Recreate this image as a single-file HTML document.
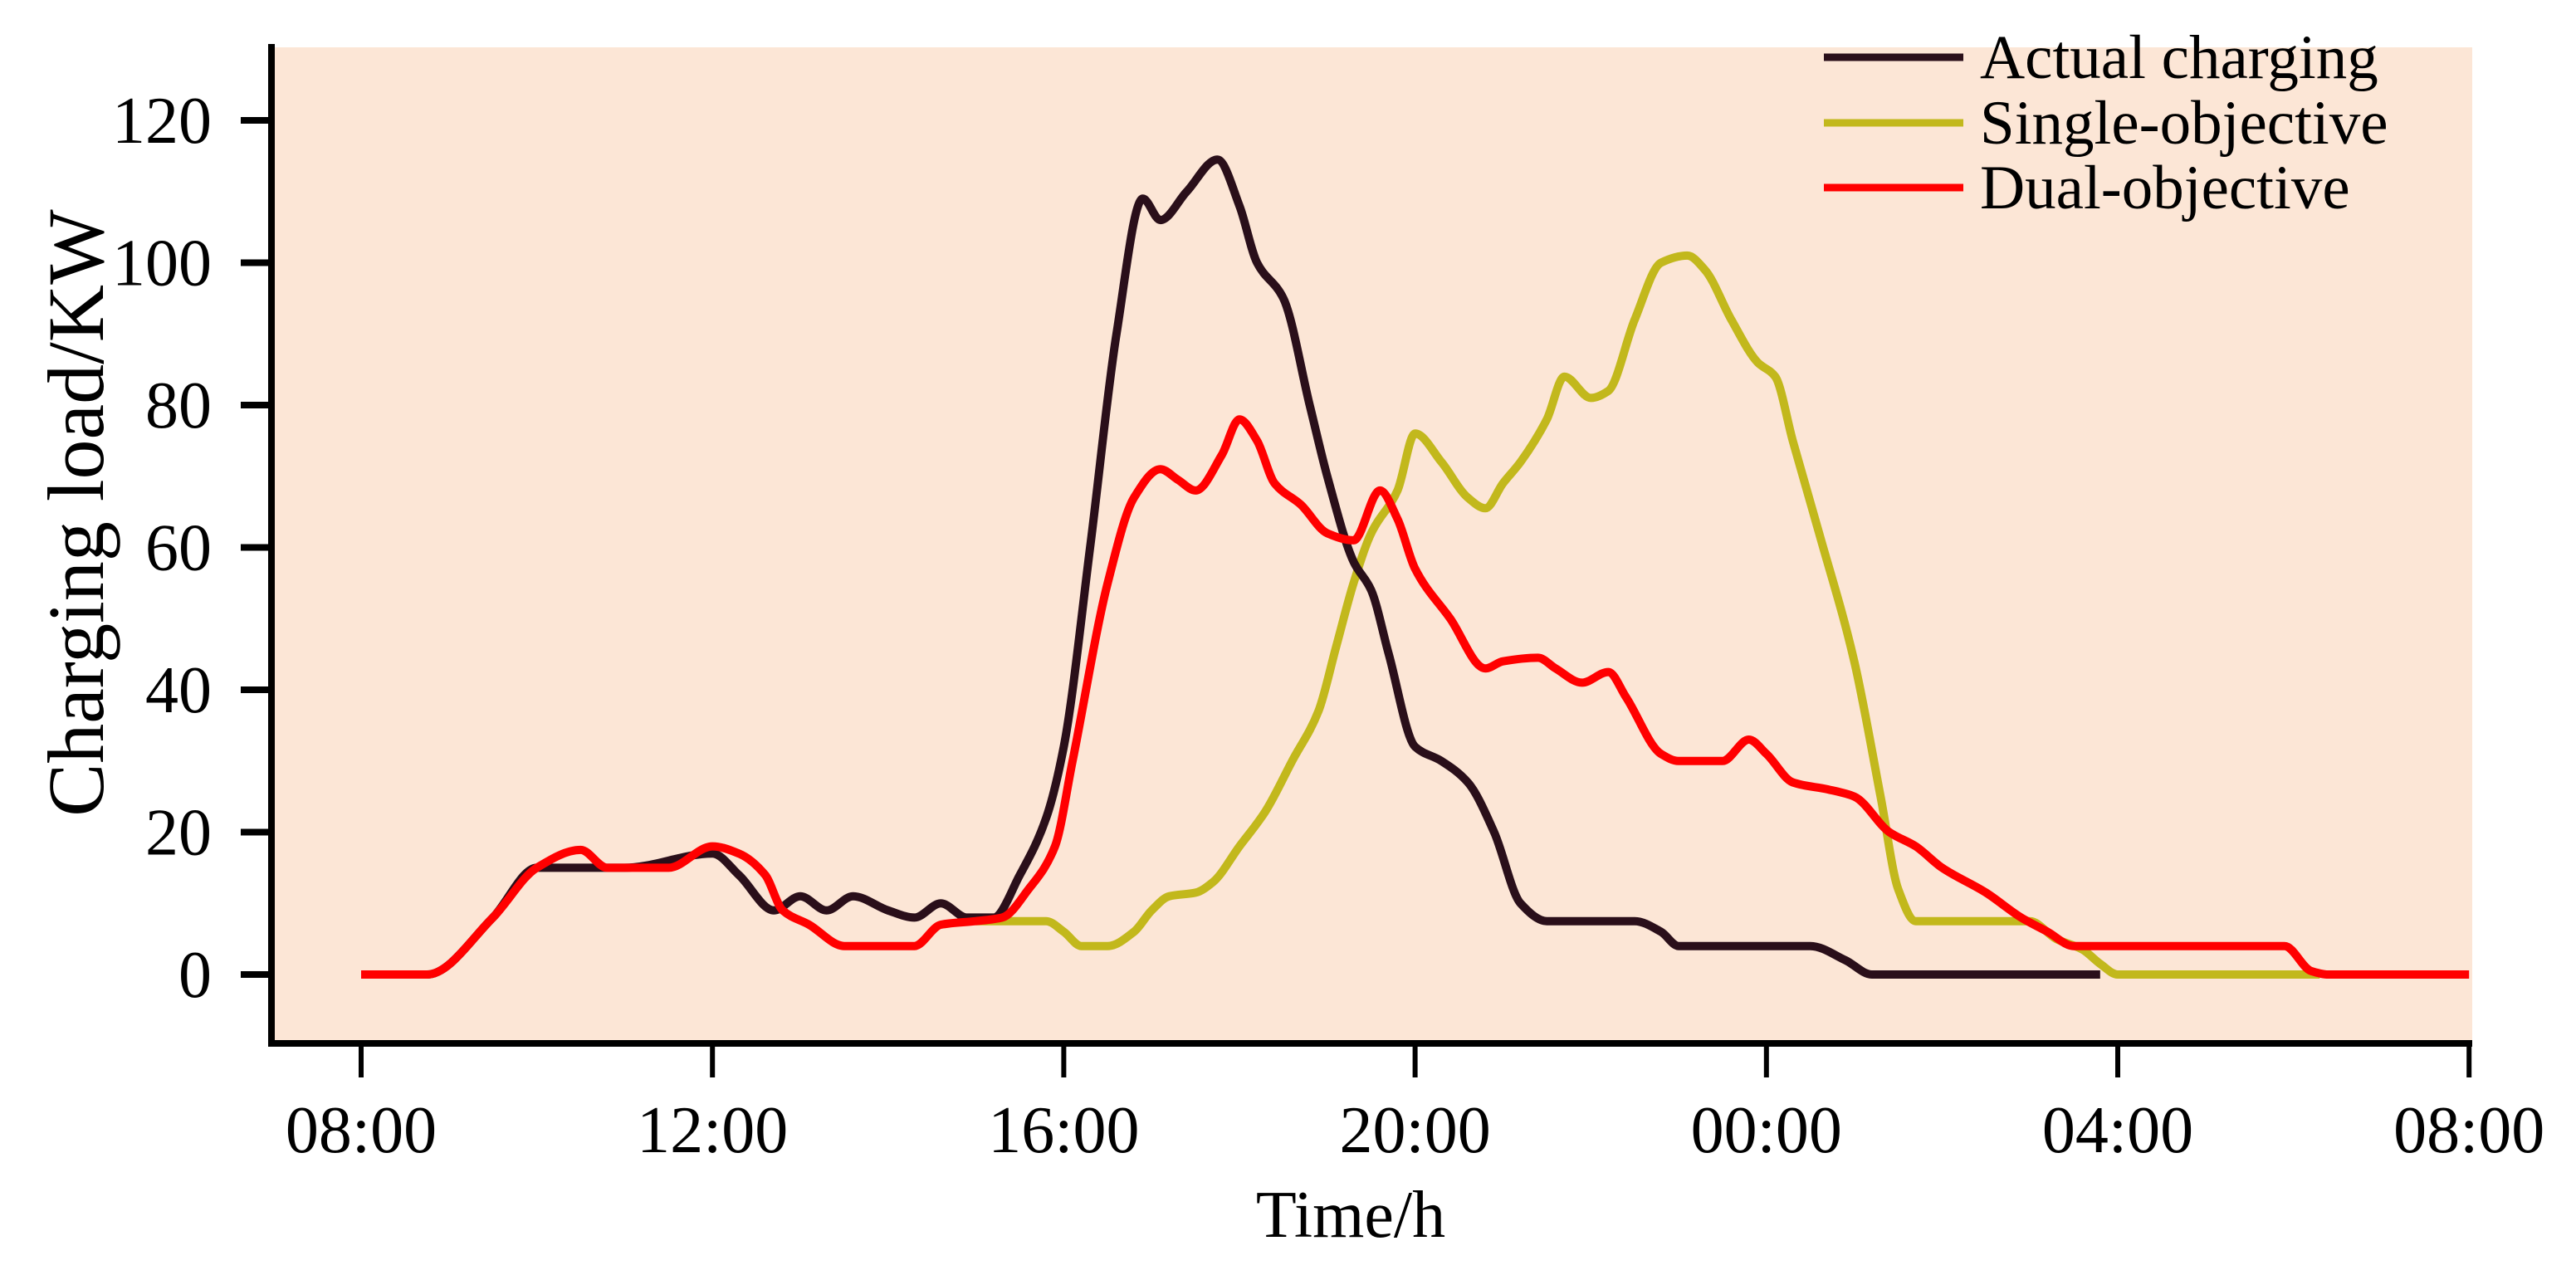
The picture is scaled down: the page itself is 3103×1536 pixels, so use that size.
<!DOCTYPE html>
<html><head><meta charset="utf-8"><style>
html,body{margin:0;padding:0;background:#fff;}
svg{display:block;font-family:"Liberation Serif","Times New Roman",serif;}
</style></head><body>
<svg id="chart" width="3103" height="1536" viewBox="0 0 3103 1536" xmlns="http://www.w3.org/2000/svg">
<rect x="327" y="57" width="2651" height="1200" fill="#fce6d6"/>
<g id="series"></g>
<g id="axes"></g>
<g>
 <line x1="2197" y1="69" x2="2365" y2="69" stroke="#2a0f1a" stroke-width="9"/>
 <text x="2385" y="94" font-size="75">Actual charging</text>
 <line x1="2197" y1="148" x2="2365" y2="148" stroke="#c2b81c" stroke-width="9"/>
 <text x="2385" y="173" font-size="75">Single-objective</text>
 <line x1="2197" y1="226" x2="2365" y2="226" stroke="#ff0000" stroke-width="9"/>
 <text x="2385" y="251" font-size="75">Dual-objective</text>
</g>
<text x="1627" y="1490" font-size="80" text-anchor="middle">Time/h</text>
<text transform="translate(124,618) rotate(-90)" font-size="96" text-anchor="middle">Charging load/KW</text>
</svg>
<script>
const xTickLabels = ["08:00","12:00","16:00","20:00","00:00","04:00","08:00"];
const yTicks = [0,20,40,60,80,100,120];
const actualT = [0,0.75,1.5,2,3,4,4.3,4.7,5.0,5.3,5.6,6.0,6.3,6.6,6.9,7.2,7.5,7.8,8.0,8.3,8.6,8.9,9.1,9.4,9.75,10.0,10.2,10.5,10.8,11.0,11.3,11.5,11.7,12.0,12.3,12.6,12.9,13.2,13.5,14,14.5,14.8,15.0,16,16.5,16.9,17.2,18,19.8];
const actualV = [0,0,8,15,15,17,14,9,11,9,11,9,8,10,8,8,14,22,32,60,90,109,106,110,114.5,108,100,95,80,70,58,54,45,32,30,27,20,10,7.5,7.5,7.5,6,4,4,4,2,0,0,0];
const singleT = [7.0,7.5,7.8,8.0,8.2,8.5,8.8,9.0,9.2,9.5,9.7,10.0,10.3,10.6,10.9,11.1,11.3,11.5,11.8,12.0,12.3,12.6,12.8,13.0,13.2,13.5,13.7,14.0,14.2,14.5,14.8,15.1,15.3,15.6,15.9,16.1,16.3,16.6,17.0,17.3,17.5,17.7,18,19.0,19.3,19.6,19.8,20.0,22.3];
const singleV = [7.5,7.5,7.5,6,4,4,6,9,11,11.5,13,18,23,30,37,46,55,62,68,76,72,67,65.5,69,72,78,84,81,82,92,100,101,99,92,86,84,75,62,44,25,12,7.5,7.5,7.5,5,3.5,1.5,0,0];
const dualT = [0,0.75,1.5,2,2.5,2.8,3.5,4.0,4.3,4.6,4.8,5.1,5.5,6.0,6.3,6.6,7.0,7.3,7.6,7.9,8.1,8.5,8.8,9.1,9.3,9.5,9.8,10.0,10.2,10.4,10.7,11.0,11.3,11.6,11.8,12.0,12.4,12.8,13.0,13.4,13.6,13.9,14.2,14.4,14.8,15.0,15.5,15.8,16.0,16.3,16.7,17.0,17.4,17.7,18.0,18.5,18.9,19.2,19.5,20,21,21.9,22.2,22.4,24];
const dualV = [0,0,8,15,17.5,15,15,18,17,14,9,7,4,4,4,7,7.5,8,12,18,30,55,67,71,69.5,68,73,78,75,69,66,62,61,68,64,57,50,43,44,44.5,43,41,42.5,39,31,30,30,33,31,27,26,25,20,18,15,11.5,8,6,4,4,4,4,0.5,0,0];

const X0=435, XPH=105.8, Y0=1174, YPU=8.575;
const xs = t => X0 + t*XPH;
const ys = v => Y0 - v*YPU;
const NS="http://www.w3.org/2000/svg";

function pathFor(T,V){
  const n=T.length, x=T.map(xs), y=V.map(ys);
  const d=[], m=new Array(n).fill(0);
  for(let i=0;i<n-1;i++) d.push((y[i+1]-y[i])/(x[i+1]-x[i]));
  m[0]=d[0]; m[n-1]=d[n-2];
  for(let i=1;i<n-1;i++){
    if(d[i-1]*d[i]<=0) m[i]=0;
    else { const h0=x[i]-x[i-1], h1=x[i+1]-x[i];
      const w1=2*h1+h0, w2=h1+2*h0;
      m[i]=(w1+w2)/(w1/d[i-1]+w2/d[i]); }
  }
  let s="M"+x[0].toFixed(1)+","+y[0].toFixed(1);
  for(let i=0;i<n-1;i++){
    const h=(x[i+1]-x[i])/3;
    s+=" C"+(x[i]+h).toFixed(1)+","+(y[i]+m[i]*h).toFixed(1)+" "+(x[i+1]-h).toFixed(1)+","+(y[i+1]-m[i+1]*h).toFixed(1)+" "+x[i+1].toFixed(1)+","+y[i+1].toFixed(1);
  }
  return s;
}
const sg=document.getElementById("series");
function addLine(T,V,color,name){
  const el=document.createElementNS(NS,"path");
  el.setAttribute("d",pathFor(T,V));
  el.setAttribute("fill","none");
  el.setAttribute("stroke",color);
  el.setAttribute("stroke-width","10");
  el.setAttribute("stroke-linejoin","round");
  
  
  sg.appendChild(el);
}
addLine(singleT,singleV,"#c2b81c","single-objective-line");
addLine(actualT,actualV,"#2a0f1a","actual-charging-line");
addLine(dualT,dualV,"#ff0000","dual-objective-line");

const ax=document.getElementById("axes");
function mk(tag,attrs){const e=document.createElementNS(NS,tag);for(const k in attrs)e.setAttribute(k,attrs[k]);ax.appendChild(e);return e;}
const yl=mk("line",{x1:327,y1:53,x2:327,y2:1261,stroke:"#000","stroke-width":8});


const xl=mk("line",{x1:323,y1:1257,x2:2978,y2:1257,stroke:"#000","stroke-width":8});


yTicks.forEach(v=>{
  const t=mk("line",{x1:290,y1:ys(v),x2:327,y2:ys(v),stroke:"#000","stroke-width":8});
  
  
  const l=mk("text",{x:255,y:ys(v)+27,"font-size":80,"text-anchor":"end"});
  l.textContent=v;
  
  
});
xTickLabels.forEach((s,i)=>{
  const x=xs(i*4);
  const t=mk("line",{x1:x,y1:1257,x2:x,y2:1298,stroke:"#000","stroke-width":6});
  
  
  const l=mk("text",{x:x,y:1388,"font-size":80,"text-anchor":"middle"});
  l.textContent=s;
  
  
});
</script>
</body></html>
